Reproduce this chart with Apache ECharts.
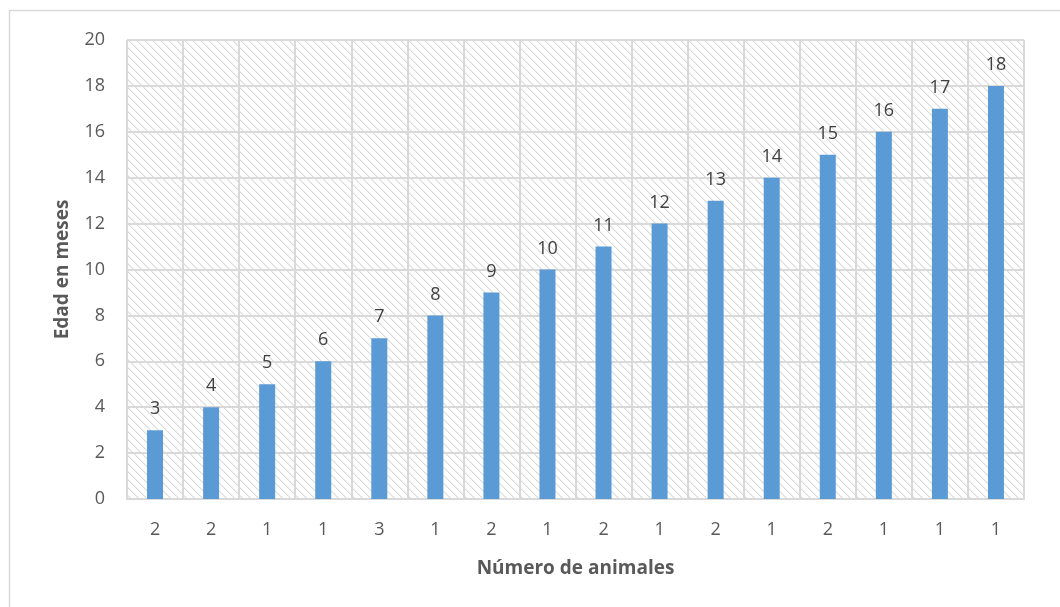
<!DOCTYPE html>
<html>
<head>
<meta charset="utf-8">
<script src="https://cdn.jsdelivr.net/npm/echarts@6/dist/echarts.min.js"></script>
<style>
  html, body { margin: 0; padding: 0; background: #ffffff; }
  #chart { width: 1060px; height: 607px; }
</style>
</head>
<body>
<div id="chart"></div>
<script>
// Number of animals per age group (x-axis labels) and age in months (bar values)
const animalCounts = ['2', '2', '1', '1', '3', '1', '2', '1', '2', '1', '2', '1', '2', '1', '1', '1'];
const ageMonths = [3, 4, 5, 6, 7, 8, 9, 10, 11, 12, 13, 14, 15, 16, 17, 18];
const yTicks = { min: 0, max: 20, step: 2 };

// Category ids are indices so that repeated count labels stay distinct
const categoryIds = animalCounts.map((_, i) => String(i));

// Diagonal hatch tile for the plot background
function hatchTile() {
  const s = 8;
  const c = document.createElement('canvas');
  c.width = s; c.height = s;
  const g = c.getContext('2d');
  g.fillStyle = '#ffffff';
  g.fillRect(0, 0, s, s);
  for (let i = 0; i < s; i++) {
    g.fillStyle = '#dcdcdc';
    g.fillRect(i, i, 1, 1);
    g.fillStyle = '#ededed';
    g.fillRect((i + 1) % s, i, 1, 1);
  }
  return c;
}

const font = '"Open Sans", Lato, sans-serif';
const chart = echarts.init(document.getElementById('chart'), null, { renderer: 'canvas' });

chart.setOption({
  animation: false,
  backgroundColor: '#ffffff',
  graphic: [{
    type: 'rect',
    shape: { x: 9.5, y: 10.5, width: 1080, height: 700 },
    style: { fill: 'none', stroke: '#d9d9d9', lineWidth: 1.5 },
    silent: true,
    z: -1
  }],
  grid: {
    left: 127, right: 36, top: 40, bottom: 108,
    show: true,
    borderWidth: 0,
    backgroundColor: { image: hatchTile(), repeat: 'repeat' }
  },
  xAxis: {
    type: 'category',
    data: categoryIds,
    name: 'Número de animales',
    nameLocation: 'middle',
    nameGap: 60,
    nameTextStyle: { fontFamily: font, fontSize: 19, fontWeight: 'bold', color: '#595959' },
    axisLine: { show: true, lineStyle: { color: '#d9d9d9', width: 2 } },
    axisTick: { show: false },
    axisLabel: {
      margin: 22,
      fontFamily: font, fontSize: 18, color: '#595959',
      formatter: (v) => animalCounts[Number(v)]
    },
    splitLine: { show: true, lineStyle: { color: '#d9d9d9', width: 2 } }
  },
  yAxis: {
    type: 'value',
    min: yTicks.min, max: yTicks.max, interval: yTicks.step,
    name: 'Edad en meses',
    nameLocation: 'middle',
    nameGap: 55,
    nameTextStyle: { fontFamily: font, fontSize: 19, fontWeight: 'bold', color: '#595959' },
    axisLine: { show: false },
    axisTick: { show: false },
    axisLabel: { margin: 22, fontFamily: font, fontSize: 18, color: '#595959' },
    splitLine: { show: true, lineStyle: { color: '#d9d9d9', width: 2 } }
  },
  series: [{
    type: 'bar',
    data: ageMonths,
    barWidth: 16,
    itemStyle: { color: '#5b9bd5' },
    label: {
      show: true,
      position: 'top',
      distance: 12,
      fontFamily: font, fontSize: 18, color: '#404040'
    }
  }]
});
</script>
</body>
</html>
